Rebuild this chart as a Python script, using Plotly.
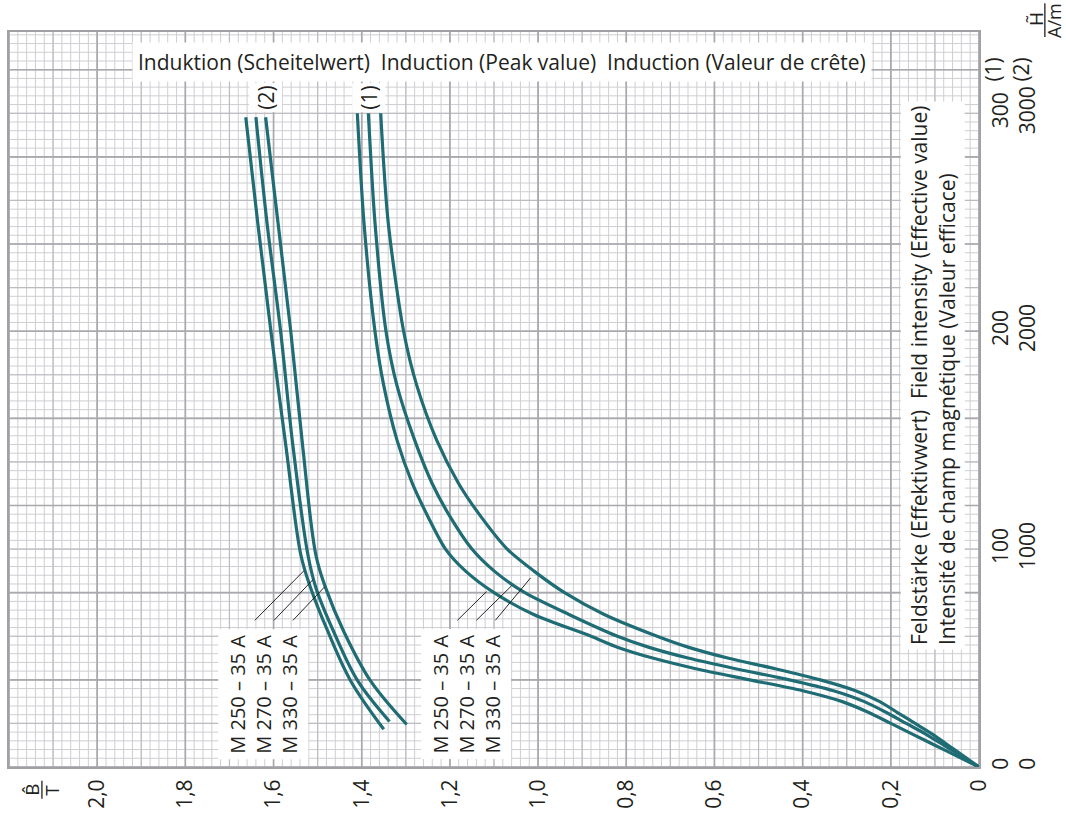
import plotly.graph_objects as go

# ---------------- data ----------------
B_TICKS = [0, 0.2, 0.4, 0.6, 0.8, 1.0, 1.2, 1.4, 1.6, 1.8, 2.0]
B_TICK_TEXT = ["0", "0,2", "0,4", "0,6", "0,8", "1,0", "1,2", "1,4", "1,6", "1,8", "2,0"]
H_TICKS = [0, 100, 200, 300]
H_TICK_TEXT = ["0<br>0", "100<br>1000", "200<br>2000", "300<br>3000"]

# scale (1): H in A/m 0..300
H1 = [0, 5, 10, 15, 20, 25, 30, 35, 40, 45, 50, 55, 60, 70, 80, 90, 100, 115, 130, 150, 175, 200, 250, 300]
B1_M250 = [0, 0.05, 0.10, 0.15, 0.20, 0.25, 0.31, 0.40, 0.52, 0.64, 0.74, 0.82, 0.88, 1.01, 1.10, 1.165, 1.21, 1.25, 1.285, 1.32, 1.35, 1.37, 1.395, 1.41]
B1_M270 = [0, 0.04, 0.08, 0.12, 0.165, 0.21, 0.26, 0.33, 0.43, 0.55, 0.66, 0.75, 0.82, 0.93, 1.03, 1.10, 1.15, 1.20, 1.24, 1.28, 1.32, 1.345, 1.37, 1.385]
B1_M330 = [0, 0.035, 0.07, 0.105, 0.145, 0.185, 0.225, 0.28, 0.36, 0.46, 0.57, 0.66, 0.73, 0.85, 0.94, 1.01, 1.07, 1.13, 1.18, 1.23, 1.275, 1.305, 1.34, 1.357]

# scale (2): H in A/m 0..3000
H2_M250 = [173, 395, 623, 823, 973, 1473, 2000, 2500, 2982]
B2_M250 = [1.350, 1.425, 1.477, 1.516, 1.538, 1.572, 1.606, 1.636, 1.663]
H2_M270 = [209, 395, 623, 823, 973, 1473, 2000, 2500, 2982]
B2_M270 = [1.337, 1.409, 1.464, 1.504, 1.522, 1.556, 1.584, 1.615, 1.640]
H2_M330 = [195, 395, 623, 823, 973, 1473, 2000, 2500, 2982]
B2_M330 = [1.298, 1.380, 1.441, 1.482, 1.504, 1.534, 1.561, 1.590, 1.618]

GRADES = ["M 250 – 35 A", "M 270 – 35 A", "M 330 – 35 A"]

# leader lines: (B_label, H_label, B_curve, H_curve) in scale-(1) units
LEAD_2 = [(1.6425, 67.3, 1.5315, 90.0), (1.599, 67.3, 1.511, 85.9), (1.556, 67.3, 1.484, 82.7)]
LEAD_1 = [(1.183, 67.3, 1.117, 80.5), (1.140, 67.3, 1.060, 83.2), (1.097, 67.3, 1.017, 86.8)]

B_MAX = 2.2
H_MAX = 337.3

CURVE = "#1f6c75"
TXT = "#231f20"
FONT = "Open Sans"
FS = 21

fig = go.Figure()

shapes = []
def gline(x0, y0, x1, y1, color, w):
    shapes.append(dict(type="line", xref="x", yref="y", x0=x0, y0=y0, x1=x1, y1=y1,
                       line=dict(color=color, width=w), layer="below"))

levels = [(1, "#cfcfd3", 1), (5, "#bcbcc1", 1.2), (10, "#a8a8ad", 1.6)]
for step, col, w in levels:
    for i in range(0, 111, step):
        b = i * 0.02
        gline(b, 0, b, H_MAX, col, w)
    for j in range(0, 85, step):
        h = j * 4
        if h <= H_MAX:
            gline(0, h, B_MAX, h, col, w)

for bl, hl, bc, hc in LEAD_2 + LEAD_1:
    shapes.append(dict(type="line", xref="x", yref="y", x0=bl, y0=hl, x1=bc, y1=hc,
                       line=dict(color="#111", width=0.9)))

for b, name in zip([B1_M250, B1_M270, B1_M330], GRADES):
    fig.add_trace(go.Scatter(x=b, y=H1, mode="lines", name=name + " (1)",
                             line=dict(color=CURVE, width=3.2, shape="spline", smoothing=0.8)))
for h, b, name in zip([H2_M250, H2_M270, H2_M330], [B2_M250, B2_M270, B2_M330], GRADES):
    fig.add_trace(go.Scatter(x=b, y=[v / 10 for v in h], mode="lines", name=name + " (2)",
                             line=dict(color=CURVE, width=3.2, shape="spline", smoothing=1.0)))

ann = []
def label(x, y, text, angle=-90, bg="white", size=FS, align="center", xref="x", yref="y", pad=4):
    ann.append(dict(x=x, y=y, xref=xref, yref=yref, text=text, showarrow=False,
                    xanchor="center", yanchor="middle",
                    textangle=angle, bgcolor=bg, borderpad=pad, align=align,
                    font=dict(family=FONT, size=size, color=TXT)))

label(1.081, 323.6, "Induktion (Scheitelwert)  Induction (Peak value)  Induction (Valeur de crête)", angle=0, pad=5)
label(0.104, 179.5, "Feldstärke (Effektivwert)  Field intensity (Effective value)<br>Intensité de champ magnétique (Valeur efficace)", align="left", pad=4)
label(1.6245, 33.5, "<br>".join(GRADES), align="left", pad=5, size=20)
label(1.1645, 33.5, "<br>".join(GRADES), align="left", pad=5, size=20)
label(1.618, 307, "(2)", pad=2)
label(1.384, 307, "(1)", pad=2)

def px(xp, yp):
    return (xp - 7) / 972, (774 - yp) / 742
CLEAR = "rgba(0,0,0,0)"
x, y = px(1007, 70); label(x, y, "(1)<br>(2)", bg=CLEAR, xref="paper", yref="paper", pad=0)
x, y = px(1036, 19); label(x, y, "H\u0303", bg=CLEAR, xref="paper", yref="paper", pad=0, size=19)
x, y = px(1054, 20); label(x, y, "A/m", bg=CLEAR, xref="paper", yref="paper", pad=0, size=18)
x, y = px(30, 797); label(x, y, "B\u0302", bg=CLEAR, xref="paper", yref="paper", pad=0, size=19)
x, y = px(50, 797); label(x, y, "T", bg=CLEAR, xref="paper", yref="paper", pad=0, size=19)
x0, y0 = px(1045, 3); x1, y1 = px(1045, 37)
shapes.append(dict(type="line", xref="paper", yref="paper", x0=x0, y0=y0, x1=x1, y1=y1, line=dict(color=TXT, width=1.3)))
x0, y0 = px(40, 788); x1, y1 = px(40, 806)
shapes.append(dict(type="line", xref="paper", yref="paper", x0=x0, y0=y0, x1=x1, y1=y1, line=dict(color=TXT, width=1.3)))

fig.update_layout(
    width=1066, height=816,
    margin=dict(l=7, r=87, t=32, b=42),
    paper_bgcolor="white", plot_bgcolor="white",
    showlegend=False,
    shapes=shapes, annotations=ann,
    font=dict(family=FONT, size=FS, color=TXT),
    xaxis=dict(range=[B_MAX, 0], tickvals=B_TICKS, ticktext=B_TICK_TEXT, tickangle=-90,
               showgrid=False, zeroline=False, showline=True, mirror=True,
               linecolor="#a0a0a5", linewidth=2, ticks="", ticklabelstandoff=2),
    yaxis=dict(range=[0, H_MAX], tickvals=H_TICKS, ticktext=H_TICK_TEXT, tickangle=-90, side="right",
               showgrid=False, zeroline=False, showline=True, mirror=True,
               linecolor="#a0a0a5", linewidth=2, ticks="", ticklabelstandoff=2),
)

fig.write_html("out.html")
